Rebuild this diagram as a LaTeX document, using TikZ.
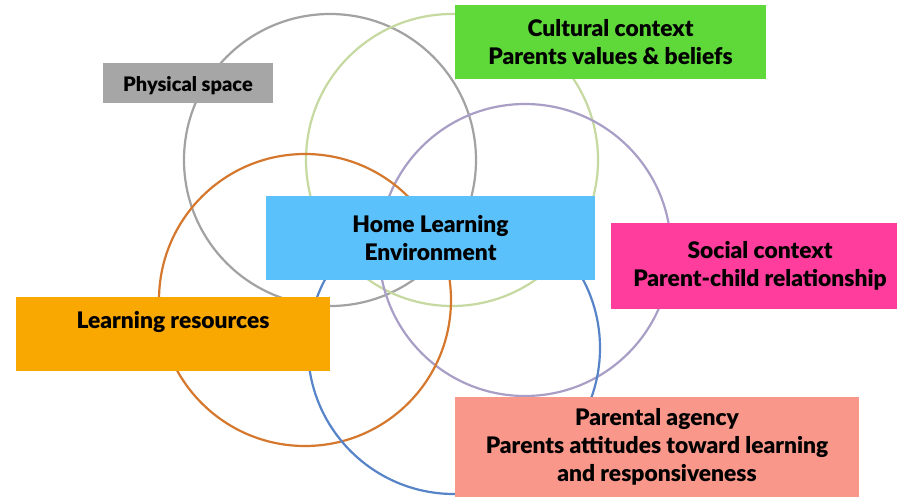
\documentclass[tikz,border=0pt]{standalone}
\usepackage{fontspec}
\setmainfont{Lato}[BoldFont={Lato Black}]
\definecolor{ringgray}{HTML}{A2A2A2}
\definecolor{ringgreen}{HTML}{C6D9A0}
\definecolor{ringpurple}{HTML}{A99FC6}
\definecolor{ringorange}{HTML}{D5782E}
\definecolor{ringblue}{HTML}{5783C8}
\definecolor{boxgray}{HTML}{A6A6A6}
\definecolor{boxgreen}{HTML}{5FD83A}
\definecolor{boxblue}{HTML}{5BC1FA}
\definecolor{boxpink}{HTML}{FF3D9C}
\definecolor{boxorange}{HTML}{F8A800}
\definecolor{boxsalmon}{HTML}{FA978B}
\tikzset{
  ring/.style={circle,draw,line width=2.2pt,minimum size=292pt,inner sep=0pt},
  factor/.style={rectangle,inner sep=0pt,align=center,
    font=\fontsize{22.8}{28}\selectfont\bfseries}
}
\begin{document}
\begin{tikzpicture}[x=1pt,y=-1pt]
  \useasboundingbox (0,0) rectangle (897,496);
  \fill[white] (0,0) rectangle (897,496);
  \draw
    (330,160) node[ring,ringgray] (physical ring){}
    (452,160) node[ring,ringgreen] (cultural ring){}
    (525,250) node[ring,ringpurple] (social ring){}
    (305,300) node[ring,ringorange] (resources ring){}
    (454,348) node[ring,ringblue] (agency ring){};
  \node[factor,fill=boxgray,minimum width=170pt,text height=28pt,text depth=12pt,
    font=\fontsize{20}{24}\selectfont\bfseries] (physical) at (188,63) [anchor=north] {Physical space};
  \node[factor,fill=boxgreen,minimum width=311pt,minimum height=74pt] (cultural)
    at (610.5,42) {Cultural context\\Parents values \& beliefs};
  \node[factor,fill=boxblue,minimum width=329pt,minimum height=84pt] (home)
    at (430.5,238) {Home Learning\\Environment};
  \node[factor,fill=boxpink,minimum width=298pt,minimum height=86pt] (social)
    at (760,266) {Social context\\Parent-child relationship};
  \node[factor,fill=boxorange,minimum width=314pt,text height=31pt,text depth=43pt]
    (resources) at (173,297) [anchor=north] {Learning resources};
  \node[factor,fill=boxsalmon,minimum width=404pt,minimum height=100pt] (agency)
    at (657,447) {Parental agency\\Parents attitudes toward learning\\and responsiveness};
\end{tikzpicture}
\end{document}
